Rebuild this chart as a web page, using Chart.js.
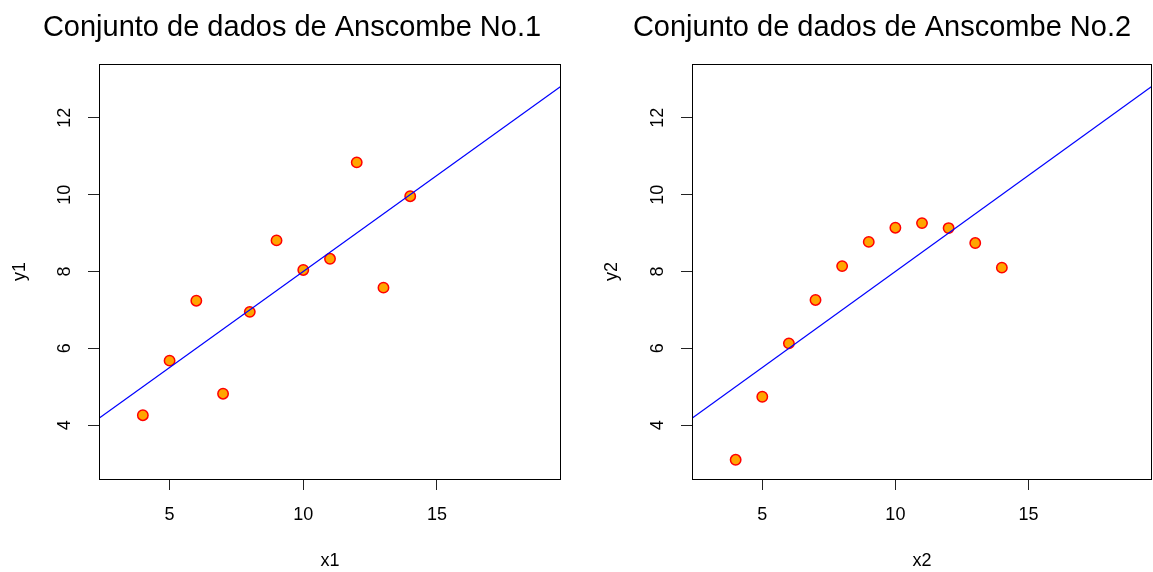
<!DOCTYPE html>
<html>
<head>
<meta charset="utf-8">
<script src="https://cdn.jsdelivr.net/npm/chart.js@4/dist/chart.umd.min.js"></script>
<style>
  html, body { margin: 0; padding: 0; background: #fff; overflow: hidden; }
  body { width: 1153px; height: 572px; position: relative; }
  canvas { position: absolute; top: 0; }
</style>
</head>
<body>
<canvas id="c1" width="584" height="572" style="left:0px"></canvas>
<canvas id="c2" width="612" height="572" style="left:576px"></canvas>
<script>
// Anscombe sets 1 and 2
const x1 = [10, 8, 13, 9, 11, 14, 6, 4, 12, 7, 5];
const y1 = [8.04, 6.95, 7.58, 8.81, 8.33, 9.96, 7.24, 4.26, 10.84, 4.82, 5.68];
const x2 = [10, 8, 13, 9, 11, 14, 6, 4, 12, 7, 5];
const y2 = [9.14, 8.14, 8.74, 8.77, 9.26, 8.10, 6.13, 3.10, 9.13, 7.26, 4.74];

// fitted line endpoints (same for both)
const fitX = [2, 20];
const fitY = [4.0, 13.0];

const xTicks = [5, 10, 15];
const yTicks = [4, 6, 8, 10, 12];

const titles = ["Conjunto de dados de Anscombe No.1", "Conjunto de dados de Anscombe No.2"];

const FONT = "'Liberation Sans', Arial, Helvetica, sans-serif";

const boxPlugin = {
  id: "box",
  afterDraw(chart) {
    const a = chart.chartArea;
    const ctx = chart.ctx;
    ctx.save();
    ctx.strokeStyle = "#000";
    ctx.lineWidth = 1;
    ctx.strokeRect(Math.round(a.left) + 0.5, Math.round(a.top) + 0.5,
      Math.round(a.right - a.left) - 1, Math.round(a.bottom - a.top));
    ctx.restore();
  }
};

// padL shifts the title centre; the y title is pulled back into the padding
function makeChart(id, xs, ys, title, xName, yName, padL, axisW, padRight, yTitlePad) {
  const pts = xs.map((x, i) => ({ x: x, y: ys[i] }));
  const line = fitX.map((x, i) => ({ x: x, y: fitY[i] }));
  return new Chart(document.getElementById(id), {
    type: "scatter",
    data: {
      datasets: [
        {
          type: "line",
          data: line,
          borderColor: "#0000ff",
          borderWidth: 1.2,
          pointRadius: 0,
          fill: false
        },
        {
          data: pts,
          backgroundColor: "#ffa500",
          borderColor: "#ff0000",
          borderWidth: 1.5,
          pointRadius: 5.2
        }
      ]
    },
    options: {
      responsive: false,
      animation: false,
      layout: { padding: { left: padL, right: padRight, top: 0, bottom: 0 } },
      plugins: {
        legend: { display: false },
        tooltip: { enabled: false },
        title: {
          display: true,
          text: title,
          color: "#000",
          font: { family: FONT, size: 29, weight: "normal", lineHeight: 1.2 },
          padding: { top: 10.6, bottom: 18.6 }
        }
      },
      scales: {
        x: {
          type: "linear",
          min: 2.36,
          max: 19.64,
          afterBuildTicks: s => { s.ticks = xTicks.map(v => ({ value: v })); },
          afterFit: s => { s.height = 93; },
          grid: { drawOnChartArea: false, drawTicks: true, tickLength: 11, color: "#222", lineWidth: 1 },
          border: { display: false },
          ticks: { color: "#000", padding: 14, font: { family: FONT, size: 18 }, maxRotation: 0 },
          title: { display: true, text: xName, color: "#000", font: { family: FONT, size: 18 }, padding: { top: 0, bottom: 0 } }
        },
        y: {
          type: "linear",
          min: 2.6,
          max: 13.4,
          afterBuildTicks: s => { s.ticks = yTicks.map(v => ({ value: v })); },
          afterFit: s => { s.width = axisW; },
          grid: { drawOnChartArea: false, drawTicks: true, tickLength: 11, color: "#222", lineWidth: 1 },
          border: { display: false },
          ticks: { color: "#000", padding: 13, crossAlign: "center", minRotation: 90, maxRotation: 90, font: { family: FONT, size: 18 } },
          title: { display: true, text: yName, color: "#000", font: { family: FONT, size: 18 }, padding: { top: yTitlePad, bottom: 0 } }
        }
      }
    },
    plugins: [boxPlugin]
  });
}

makeChart("c1", x1, y1, titles[0], "x1", "y1", 23, 76, 23, -13.8);
makeChart("c2", x2, y2, titles[1], "x2", "y2", 36, 80, 36, -10.8);
</script>
</body>
</html>
